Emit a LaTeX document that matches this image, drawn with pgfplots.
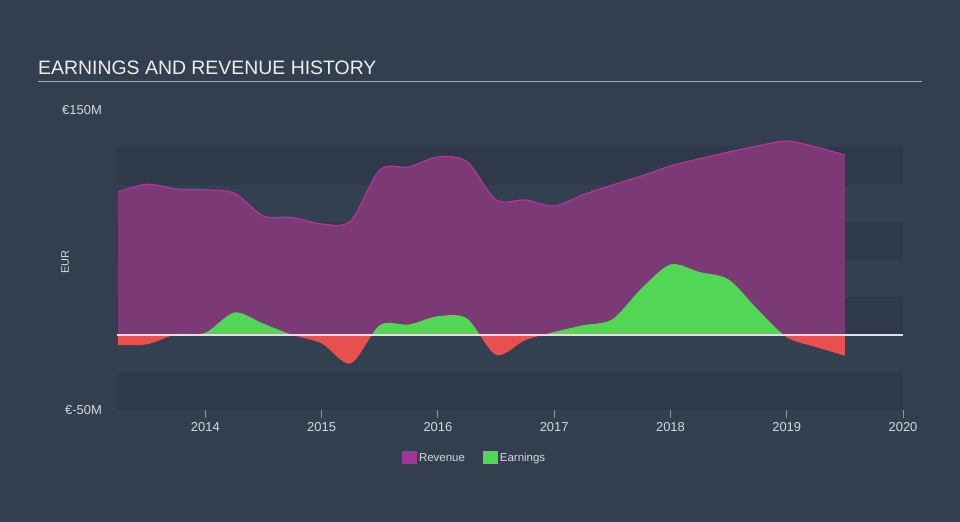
\documentclass[border=0pt]{standalone}
\usepackage{fontspec}
\setmainfont{Liberation Sans}
\usepackage{pgfplots}
\usepackage{pgfplotstable}
\pgfplotsset{compat=1.18}
\definecolor{bg}{HTML}{333F4F}
\definecolor{banddark}{HTML}{2E3A49}
\definecolor{bandlight}{HTML}{324050}
\definecolor{revfill}{HTML}{7B3975}
\definecolor{revline}{HTML}{B5359F}
\definecolor{revleg}{HTML}{A2359A}
\definecolor{earnpos}{HTML}{52D655}
\definecolor{earnneg}{HTML}{E84F4F}
\definecolor{zeroline}{HTML}{E0E0E0}
\definecolor{titlecol}{HTML}{EEEEEE}
\definecolor{labcol}{HTML}{D5D9DE}
\definecolor{axcol}{HTML}{8E98A3}
\pgfplotstableread{
x rev earn
2013.25 95.3 -6.7
2013.5 100.5 -6.2
2013.75 97.3 0.5
2014.0 96.8 1.5
2014.25 94.5 15
2014.5 79.3 7.5
2014.75 78.3 0
2015.0 74 -5.6
2015.25 76 -19
2015.5 110 6.5
2015.75 112 7
2016.0 118.7 12.5
2016.25 115.5 11
2016.5 90 -13.3
2016.75 90 -3.5
2017.0 86 2
2017.25 93.5 6.5
2017.5 100 10.5
2017.75 106 31
2018.0 112.7 47
2018.25 117.5 42
2018.5 122 37
2018.75 126 17
2019.0 129.3 -1.5
2019.25 125.3 -8
2019.5 120 -13.8
}\data
\begin{document}
\begin{tikzpicture}[x=1bp,y=1bp]
\useasboundingbox (0,0) rectangle (960,522);
\fill[bg] (0,0) rectangle (960,522);
\node[anchor=base west, inner sep=0pt, text=titlecol, font=\fontsize{19.5}{22}\selectfont] at (38,447) {EARNINGS AND REVENUE HISTORY};
\draw[color=axcol!80!white, line width=1.5bp] (38,440.3) -- (921.5,440.3);
\begin{axis}[
  at={(117bp,112bp)}, anchor=south west,
  scale only axis, width=786bp, height=300bp,
  xmin=2013.24, xmax=2020, ymin=-50, ymax=150,
  axis x line*=bottom, axis y line*=left,
  x axis line style={draw=axcol, line width=1bp},
  y axis line style={draw=none},
  xtick={2014,2015,2016,2017,2018,2019,2020},
  xticklabels={2014,2015,2016,2017,2018,2019,2020},
  tick align=outside,
  xtick style={draw=axcol, line width=1bp},
  major tick length=8bp,
  xticklabel style={text=labcol, font=\fontsize{13}{15}\selectfont, inner sep=0pt, yshift=-4bp},
  ytick={-50,150},
  yticklabels={€-50M,€150M},
  ytick style={draw=none},
  yticklabel style={text=labcol, font=\fontsize{13}{15}\selectfont, anchor=east, inner sep=0pt, xshift=-7bp},
  ylabel={EUR},
  ylabel style={at={(axis description cs:-0.066,0.493)}, anchor=center, text=labcol, font=\fontsize{11}{13}\selectfont},
  axis line style={-},
  clip=true,
  legend style={at={(axis description cs:0.455,-0.16)}, anchor=center, draw=none, fill=none, text=labcol, font=\fontsize{11.5}{13}\selectfont, legend columns=2, /tikz/every even column/.append style={column sep=16bp}, legend cell align=left},
  legend image code/.code={\path[#1] (0bp,-6.5bp) rectangle (15bp,6.5bp);},
]
\fill[banddark] (axis cs:2013.24,100) rectangle (axis cs:2020,125);
\fill[bandlight] (axis cs:2013.24,75) rectangle (axis cs:2020,100);
\fill[banddark] (axis cs:2013.24,50) rectangle (axis cs:2020,75);
\fill[bandlight] (axis cs:2013.24,25) rectangle (axis cs:2020,50);
\fill[banddark] (axis cs:2013.24,0) rectangle (axis cs:2020,25);
\fill[bandlight] (axis cs:2013.24,-25) rectangle (axis cs:2020,0);
\fill[banddark] (axis cs:2013.24,-50) rectangle (axis cs:2020,-25);
\addplot[draw=none, fill=revfill, smooth, forget plot] table[x=x,y=rev] {\data} \closedcycle;
\addplot[draw=revline, line width=1.2bp, smooth, forget plot] table[x=x,y=rev] {\data};
\begin{scope}
\clip (axis cs:2013,0.15) rectangle (axis cs:2021,150);
\addplot[draw=none, fill=earnpos, smooth, forget plot] table[x=x,y=earn] {\data} \closedcycle;
\end{scope}
\begin{scope}
\clip (axis cs:2013,-50) rectangle (axis cs:2021,-0.15);
\addplot[draw=none, fill=earnneg, smooth, forget plot] table[x=x,y=earn] {\data} \closedcycle;
\end{scope}
\addplot[draw=zeroline, line width=1.1bp, forget plot] coordinates {(2013.24,0) (2020,0)};
\addlegendimage{fill=revleg, draw=none}
\addlegendentry{Revenue}
\addlegendimage{fill=earnpos, draw=none}
\addlegendentry{Earnings}
\end{axis}
\end{tikzpicture}
\end{document}
